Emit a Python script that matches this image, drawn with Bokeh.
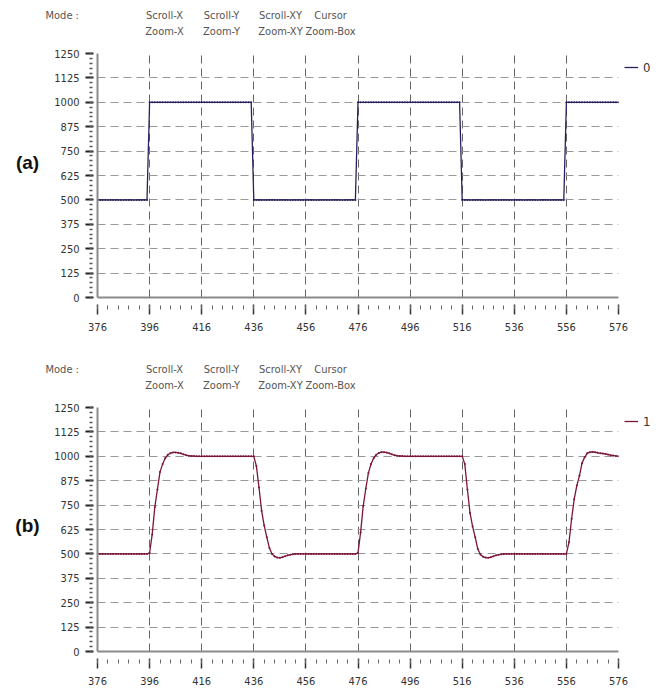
from bokeh.plotting import figure
from bokeh.layouts import column, row
from bokeh.models import FixedTicker, Legend, LegendItem, Range1d
from bokeh.embed import file_html
from bokeh.resources import INLINE
from bokeh.core.properties import value

# ---------------- data ----------------
x_values = list(range(376, 577))

series_0 = [
    500, 500, 500, 500, 500, 500, 500, 500, 500, 500,
    500, 500, 500, 500, 500, 500, 500, 500, 500, 500,
    1000, 1000, 1000, 1000, 1000, 1000, 1000, 1000, 1000, 1000,
    1000, 1000, 1000, 1000, 1000, 1000, 1000, 1000, 1000, 1000,
    1000, 1000, 1000, 1000, 1000, 1000, 1000, 1000, 1000, 1000,
    1000, 1000, 1000, 1000, 1000, 1000, 1000, 1000, 1000, 1000,
    500, 500, 500, 500, 500, 500, 500, 500, 500, 500,
    500, 500, 500, 500, 500, 500, 500, 500, 500, 500,
    500, 500, 500, 500, 500, 500, 500, 500, 500, 500,
    500, 500, 500, 500, 500, 500, 500, 500, 500, 500,
    1000, 1000, 1000, 1000, 1000, 1000, 1000, 1000, 1000, 1000,
    1000, 1000, 1000, 1000, 1000, 1000, 1000, 1000, 1000, 1000,
    1000, 1000, 1000, 1000, 1000, 1000, 1000, 1000, 1000, 1000,
    1000, 1000, 1000, 1000, 1000, 1000, 1000, 1000, 1000, 1000,
    500, 500, 500, 500, 500, 500, 500, 500, 500, 500,
    500, 500, 500, 500, 500, 500, 500, 500, 500, 500,
    500, 500, 500, 500, 500, 500, 500, 500, 500, 500,
    500, 500, 500, 500, 500, 500, 500, 500, 500, 500,
    1000, 1000, 1000, 1000, 1000, 1000, 1000, 1000, 1000, 1000,
    1000, 1000, 1000, 1000, 1000, 1000, 1000, 1000, 1000, 1000,
    1000,
]

series_1 = [
    500, 500, 500, 500, 500, 500, 500, 500, 500, 500,
    500, 500, 500, 500, 500, 500, 500, 500, 500, 500,
    505, 600, 740, 830, 920, 960, 990, 1008, 1016, 1020,
    1020, 1018, 1015, 1010, 1006, 1003, 1002, 1001, 1000, 1000,
    1000, 1000, 1000, 1000, 1000, 1000, 1000, 1000, 1000, 1000,
    1000, 1000, 1000, 1000, 1000, 1000, 1000, 1000, 1000, 1000,
    1000, 950, 840, 720, 645, 585, 530, 500, 487, 481,
    480, 483, 488, 493, 496, 498, 500, 500, 500, 500,
    500, 500, 500, 500, 500, 500, 500, 500, 500, 500,
    500, 500, 500, 500, 500, 500, 500, 500, 500, 500,
    505, 610, 745, 835, 915, 960, 990, 1008, 1017, 1021,
    1021, 1019, 1015, 1010, 1006, 1003, 1002, 1001, 1000, 1000,
    1000, 1000, 1000, 1000, 1000, 1000, 1000, 1000, 1000, 1000,
    1000, 1000, 1000, 1000, 1000, 1000, 1000, 1000, 1000, 1000,
    1000, 960, 830, 710, 640, 585, 525, 497, 486, 481,
    480, 483, 488, 493, 496, 498, 500, 500, 500, 500,
    500, 500, 500, 500, 500, 500, 500, 500, 500, 500,
    500, 500, 500, 500, 500, 500, 500, 500, 500, 500,
    500, 560, 680, 780, 850, 900, 965, 995, 1015, 1021,
    1022, 1021, 1018, 1016, 1014, 1012, 1009, 1006, 1004, 1002,
    1000,
]

x_major_ticks = [376, 396, 416, 436, 456, 476, 496, 516, 536, 556, 576]
x_minor_ticks = list(range(376, 577, 4))
y_major_ticks = [0, 125, 250, 375, 500, 625, 750, 875, 1000, 1125, 1250]
y_minor_ticks = list(range(0, 1251, 25))

header_texts = ["Mode :", "Scroll-X", "Scroll-Y", "Scroll-XY", "Cursor",
                "Zoom-X", "Zoom-Y", "Zoom-XY", "Zoom-Box"]
panel_tags = ["(a)", "(b)"]

# ---------------- layout / style ----------------
FONT = "DejaVu Sans Condensed"
W = 665
TAG_W = 50
LEFT, FW = 47, 521
RIGHT = W - TAG_W - LEFT - FW
FH = 244
HEADER_H = 46
# header text positions (pixels inside the header strip)
header_x = [45, 164, 221, 280, 330, 164, 221, 280, 330]
header_y = [31, 31, 31, 31, 31, 15, 15, 15, 15]
header_align = ["left", "center", "center", "center", "center",
                "center", "center", "center", "center"]


def make_header():
    h = figure(frame_width=W, frame_height=HEADER_H,
               x_range=Range1d(0, W), y_range=Range1d(0, HEADER_H),
               output_backend="svg", toolbar_location=None,
               min_border=0, min_border_left=0, min_border_right=0,
               min_border_top=0, min_border_bottom=0,
               x_axis_location=None, y_axis_location=None, frame_align=False)
    h.grid.visible = False
    h.outline_line_color = None
    h.text(x=header_x, y=header_y, text=header_texts, text_align=header_align,
           text_baseline="middle", text_font=value(FONT), text_font_size="11px",
           text_color="#555555")
    return h


def make_tag(tag, total_h, tag_y):
    t = figure(frame_width=TAG_W, frame_height=total_h,
               x_range=Range1d(0, TAG_W), y_range=Range1d(0, total_h),
               output_backend="svg", toolbar_location=None,
               min_border=0, min_border_left=0, min_border_right=0,
               min_border_top=0, min_border_bottom=0,
               x_axis_location=None, y_axis_location=None, frame_align=False)
    t.grid.visible = False
    t.outline_line_color = None
    t.text(x=[27], y=[tag_y], text=[tag], text_align="center",
           text_baseline="middle", text_font=value("Liberation Sans"),
           text_font_style="bold", text_font_size="19px", text_color="#111111")
    return t


def make_panel(ys, color, name, border_bottom):
    p = figure(frame_width=FW, frame_height=FH,
               x_range=Range1d(376, 576), y_range=Range1d(0, 1250),
               output_backend="svg", toolbar_location=None,
               min_border_left=LEFT, min_border_right=RIGHT,
               min_border_top=7, min_border_bottom=border_bottom,
               frame_align=False)
    p.outline_line_color = None
    p.background_fill_color = "white"

    r = p.line(x_values, ys, line_color=color, line_width=1.3)
    p.scatter(x_values, ys, size=2, color=color, line_width=0)

    xt = FixedTicker(ticks=x_major_ticks, minor_ticks=x_minor_ticks)
    yt = FixedTicker(ticks=y_major_ticks, minor_ticks=y_minor_ticks)

    xa = p.xaxis[0]
    xa.ticker = xt
    xa.axis_line_color = "#8a8a8a"
    xa.axis_line_width = 2
    xa.major_tick_in = -7
    xa.major_tick_out = 17
    xa.major_tick_line_color = "#333333"
    xa.major_tick_line_width = 1.5
    xa.minor_tick_in = -8
    xa.minor_tick_out = 12
    xa.minor_tick_line_color = "#666666"
    xa.minor_tick_line_width = 1
    xa.major_label_standoff = 8
    xa.major_label_text_font = FONT
    xa.major_label_text_font_size = "11px"
    xa.major_label_text_color = "#333333"

    ya = p.yaxis[0]
    ya.ticker = yt
    ya.axis_line_color = "#8a8a8a"
    ya.axis_line_width = 2
    ya.major_tick_in = -4
    ya.major_tick_out = 12
    ya.major_tick_line_color = "#222222"
    ya.major_tick_line_width = 2
    ya.minor_tick_in = -5
    ya.minor_tick_out = 8
    ya.minor_tick_line_color = "#555555"
    ya.minor_tick_line_width = 1.5
    ya.major_label_standoff = 6
    ya.major_label_text_font = FONT
    ya.major_label_text_font_size = "11px"
    ya.major_label_text_color = "#333333"

    p.xgrid.ticker = xt
    p.ygrid.ticker = yt
    p.xgrid.grid_line_color = "#666666"
    p.xgrid.grid_line_dash = "8 5"
    p.xgrid.grid_line_width = 1
    p.ygrid.grid_line_color = "#999999"
    p.ygrid.grid_line_dash = "8 5"
    p.ygrid.grid_line_width = 1

    legend = Legend(items=[LegendItem(label=name, renderers=[r])],
                    location="top_left",
                    border_line_color=None, background_fill_alpha=0,
                    label_text_font=FONT, label_text_font_size="13px",
                    label_text_color="#333333",
                    glyph_width=14, glyph_height=16, label_height=16,
                    label_standoff=5, padding=0, margin=6, spacing=0)
    p.add_layout(legend, "right")
    return p


B_TOP, B_BOT = 57, 39
H_TOP = 7 + FH + B_TOP
H_BOT = 7 + FH + B_BOT

p_top = make_panel(series_0, "#2a1f5c", "0", B_TOP)
p_bot = make_panel(series_1, "#7a1538", "1", B_BOT)

layout = column(
    make_header(),
    row(make_tag(panel_tags[0], H_TOP, H_TOP - 116), p_top, spacing=0),
    make_header(),
    row(make_tag(panel_tags[1], H_BOT, H_BOT - 125), p_bot, spacing=0),
    spacing=0,
)
open("out.html", "w").write(file_html(layout, INLINE))
